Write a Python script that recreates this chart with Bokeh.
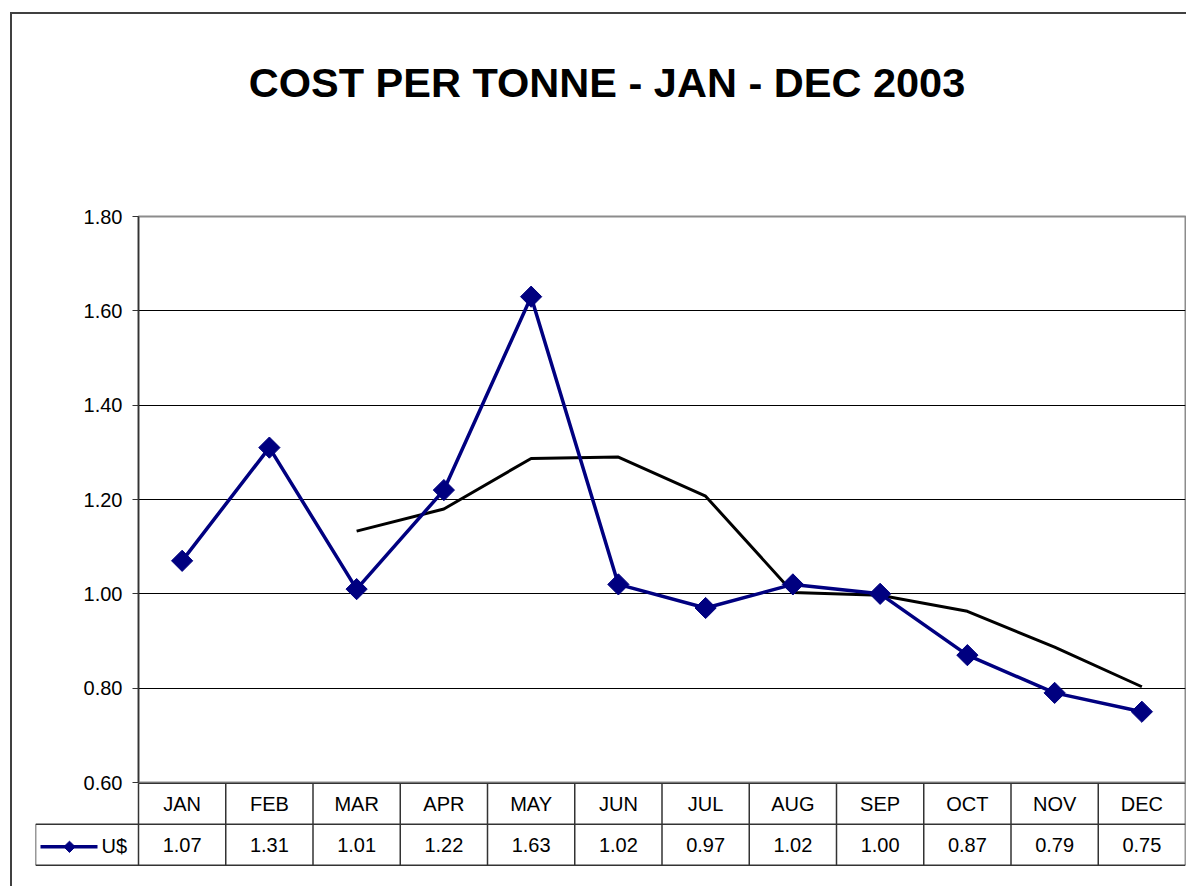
import numpy as np
from bokeh.plotting import figure
from bokeh.layouts import column
from bokeh.models import Range1d, FixedTicker, NumeralTickFormatter
from bokeh.core.properties import value
from bokeh.embed import file_html
from bokeh.resources import INLINE

# ---- data ----
months = ["JAN", "FEB", "MAR", "APR", "MAY", "JUN", "JUL", "AUG", "SEP", "OCT", "NOV", "DEC"]
us_cost = [1.07, 1.31, 1.01, 1.22, 1.63, 1.02, 0.97, 1.02, 1.00, 0.87, 0.79, 0.75]
moving_avg = [np.nan, np.nan, 1.133, 1.180, 1.287, 1.290, 1.207, 1.003, 0.997, 0.963, 0.887, 0.803]
y_ticks = [0.60, 0.80, 1.00, 1.20, 1.40, 1.60, 1.80]
series_name = "U$"
title_text = "COST PER TONNE - JAN - DEC 2003"

FONT = "Liberation Sans"
NAVY = "#000080"
W = 1174
MBL, MBR = 126, 1
x_pos = np.arange(len(months)) + 0.5

# ---- header with the title ----
HDR_H = 202
h = figure(width=W, height=HDR_H, output_backend="svg", toolbar_location=None,
           x_range=Range1d(0, W), y_range=Range1d(0, HDR_H),
           x_axis_location=None, y_axis_location=None, frame_align=False,
           min_border_left=0, min_border_right=0, min_border_top=0, min_border_bottom=0)
h.outline_line_color = None
h.xgrid.visible = False
h.ygrid.visible = False
h.border_fill_color = None
h.background_fill_color = None
h.text(x=[594.5], y=[HDR_H - 68], text=[title_text], text_align="center",
       text_baseline="alphabetic", text_font=value(FONT), text_font_size="41.5px",
       text_font_style="bold", text_color="black")

# ---- main chart ----
p = figure(width=W, height=592, output_backend="svg", toolbar_location=None,
           x_range=Range1d(0, len(months)), y_range=Range1d(y_ticks[0], y_ticks[-1]),
           x_axis_location=None, min_border_left=MBL, min_border_right=MBR,
           min_border_top=12, min_border_bottom=14, frame_align=False,
           margin=(-12, 0, 0, 0))
p.outline_line_color = "#8c8c8c"
p.outline_line_width = 2
p.background_fill_color = "white"
p.border_fill_color = None

p.yaxis.ticker = FixedTicker(ticks=y_ticks)
p.yaxis.formatter = NumeralTickFormatter(format="0.00")
p.yaxis.major_label_text_font = FONT
p.yaxis.major_label_text_font_size = "20px"
p.yaxis.major_label_text_color = "black"
p.yaxis.major_label_standoff = 10
p.yaxis.major_tick_out = 6
p.yaxis.major_tick_in = 0
p.yaxis.minor_tick_line_color = None
p.yaxis.axis_line_color = "#333333"
p.yaxis.axis_line_width = 1.5
p.yaxis.major_tick_line_color = "#333333"

p.xgrid.visible = False
p.ygrid.ticker = FixedTicker(ticks=y_ticks[:-1])
p.ygrid.grid_line_color = "black"
p.ygrid.grid_line_width = 1

p.line(x_pos, moving_avg, line_color="black", line_width=3)
p.line(x_pos, us_cost, line_color=NAVY, line_width=3.5)
p.scatter(x_pos, us_cost, marker="square", angle=np.pi / 4, size=15,
          fill_color=NAVY, line_color=NAVY)

# ---- data table below ----
cat_px = (W - MBL - MBR) / len(months)     # pixel width of one category
left_px = 138 - 35                          # legend cell width in px
x0 = -left_px / cat_px
t = figure(width=W, height=104, output_backend="svg", toolbar_location=None,
           x_range=Range1d(x0, len(months)), y_range=Range1d(-0.52, 2.02),
           x_axis_location=None, y_axis_location=None, frame_align=False,
           min_border_left=MBL - left_px, min_border_right=MBR,
           min_border_top=0, min_border_bottom=0, margin=(-14, 0, 0, 0))
t.outline_line_color = None
t.xgrid.visible = False
t.ygrid.visible = False
t.border_fill_color = None
t.background_fill_color = None

LC = "#333333"
n = len(months)
bounds = list(range(n + 1))
t.segment(x0=bounds, y0=[0] * (n + 1), x1=bounds, y1=[2] * (n + 1), line_color=LC, line_width=1.5)
t.segment(x0=[0, x0, x0, x0], y0=[2, 1, 0, 0], x1=[n, n, n, x0], y1=[2, 1, 0, 1],
          line_color=LC, line_width=1.5)
t.text(x_pos, [1.5] * n, text=months, text_align="center", text_baseline="middle",
       text_font=value(FONT), text_font_size="20px", text_color="black")
t.text(x_pos, [0.5] * n, text=[f"{v:.2f}" for v in us_cost], text_align="center",
       text_baseline="middle", text_font=value(FONT), text_font_size="20px", text_color="black")

# legend key in the table
def px(dx):
    return x0 + dx / cat_px
t.line([px(5), px(62)], [0.45, 0.45], line_color=NAVY, line_width=3.5)
t.scatter([px(34)], [0.45], marker="square", angle=np.pi / 4, size=8,
          fill_color=NAVY, line_color=NAVY)
t.text([px(66)], [0.47], text=[series_name], text_align="left", text_baseline="middle",
       text_font=value(FONT), text_font_size="20px", text_color="black")

layout = column(h, p, t, spacing=0, margin=(12, 0, 0, 10),
                styles={"border-left": "2px solid #404040", "border-top": "2px solid #404040"})

open("out.html", "w").write(file_html(layout, INLINE))
